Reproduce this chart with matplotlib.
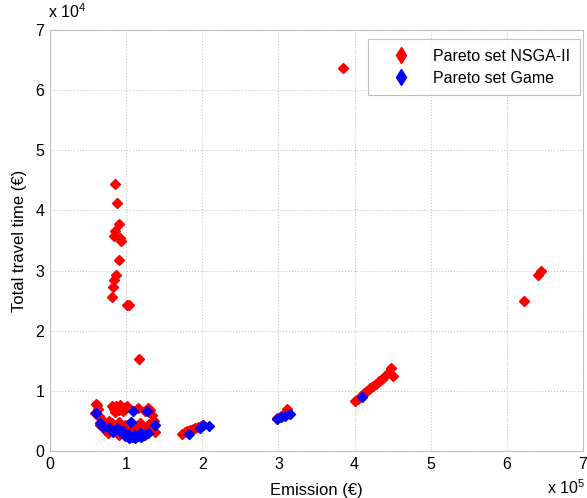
import matplotlib
matplotlib.use("Agg")
import matplotlib.pyplot as plt
from matplotlib.lines import Line2D

# Emission (x 1e5) and total travel time (x 1e4)
nsga_x = [3.85, 6.23, 6.41, 6.45,
          0.86, 0.88, 0.91, 0.86, 0.84, 0.92, 0.93, 0.90, 0.87, 0.845, 0.83, 0.82, 1.01, 1.04, 1.165,
          0.62, 0.635, 0.59, 0.64, 0.66, 0.61,
          0.81, 0.84, 0.87, 0.90, 0.93, 0.96, 0.99, 1.01, 0.85, 0.92, 0.97,
          1.16, 1.29, 1.34, 1.25, 1.31,
          0.81, 0.90, 0.99, 1.18, 1.23, 1.34, 0.72, 0.90, 1.25, 1.38, 0.66, 0.76, 1.05, 1.12,
          0.95, 1.02, 1.10, 1.15, 1.20, 0.86, 0.78, 1.30, 1.36, 0.70,
          1.73, 1.77, 1.80, 1.84, 1.88, 1.91, 1.94, 1.98, 2.01,
          2.98, 3.03, 3.07, 3.11,
          4.00, 4.04, 4.08, 4.12, 4.16, 4.20, 4.24, 4.28, 4.32, 4.36, 4.40, 4.44, 4.48, 4.50]
nsga_y = [6.36, 2.50, 2.92, 3.00,
          4.44, 4.13, 3.78, 3.66, 3.58, 3.54, 3.50, 3.17, 2.92, 2.85, 2.73, 2.56, 2.43, 2.43, 1.53,
          0.76, 0.70, 0.63, 0.58, 0.55, 0.78,
          0.75, 0.70, 0.74, 0.68, 0.72, 0.66, 0.70, 0.74, 0.65, 0.76, 0.72,
          0.71, 0.71, 0.60, 0.66, 0.68,
          0.46, 0.49, 0.43, 0.46, 0.40, 0.38, 0.35, 0.27, 0.27, 0.32, 0.43, 0.30, 0.47, 0.42,
          0.36, 0.33, 0.38, 0.30, 0.45, 0.40, 0.50, 0.45, 0.50, 0.50,
          0.29, 0.31, 0.33, 0.35, 0.37, 0.39, 0.40, 0.42, 0.44,
          0.55, 0.58, 0.62, 0.70,
          0.83, 0.87, 0.91, 0.96, 1.00, 1.04, 1.08, 1.12, 1.16, 1.20, 1.25, 1.30, 1.38, 1.24]

game_x = [0.61, 0.66, 0.70, 0.77, 0.83, 0.88, 1.09, 1.27, 1.07, 1.38,
          0.94, 0.99, 1.04, 1.08, 1.12, 1.16, 1.20, 1.24, 1.29, 1.02, 1.10, 1.18, 0.96,
          1.82, 1.97, 2.01, 2.09,
          2.98, 3.04, 3.09, 3.15,
          4.10]
game_y = [0.63, 0.46, 0.40, 0.38, 0.32, 0.38, 0.66, 0.66, 0.49, 0.43,
          0.30, 0.25, 0.22, 0.24, 0.22, 0.25, 0.23, 0.26, 0.30, 0.28, 0.27, 0.30, 0.33,
          0.29, 0.38, 0.43, 0.42,
          0.54, 0.57, 0.59, 0.62,
          0.89]

series_labels = ['Pareto set NSGA-II', 'Pareto set Game']
series_colors = ['#ff0000', '#0000ff']

plt.rcParams['font.family'] = ['Liberation Sans', 'DejaVu Sans']

fig = plt.figure(figsize=(5.87, 4.98), dpi=100)
ax = fig.add_axes([50/587, 47/498, 533/587, 421/498])

ax.plot([v * 1e5 for v in nsga_x], [v * 1e4 for v in nsga_y], linestyle='none',
        marker='D', markersize=5, color=series_colors[0], markeredgecolor=series_colors[0])
ax.plot([v * 1e5 for v in game_x], [v * 1e4 for v in game_y], linestyle='none',
        marker='D', markersize=5, color=series_colors[1], markeredgecolor=series_colors[1])

ax.set_xlim(0, 7e5)
ax.set_ylim(0, 7e4)
ax.set_xticks([i * 1e5 for i in range(8)])
ax.set_yticks([i * 1e4 for i in range(8)])
ax.set_xticklabels([str(i) for i in range(8)])
ax.set_yticklabels([str(i) for i in range(8)])
ax.tick_params(labelsize=11.5, length=0, pad=4)

ax.grid(True, linestyle=':', color='#c8c8c8', linewidth=0.8)
ax.set_axisbelow(True)
for s in ax.spines.values():
    s.set_color('#c0c0c0')
    s.set_linewidth(0.8)

ax.set_xlabel('Emission (€)', fontsize=12, labelpad=8)
ax.set_ylabel('Total travel time (€)', fontsize=12, labelpad=6)

fig.text(48/587, 1 - 18/498, r'x 10$^{\mathregular{4}}$', fontsize=11.5, ha='left', va='baseline')
fig.text(547/587, 1 - 494/498, r'x 10$^{\mathregular{5}}$', fontsize=11.5, ha='left', va='baseline')

handles = [Line2D([], [], linestyle='none', marker='d', markersize=8,
                  color=c, markeredgecolor=c) for c in series_colors]
leg = ax.legend(handles, series_labels, loc='upper right',
                bbox_to_anchor=(580/587, 1 - 39/498), bbox_transform=fig.transFigure,
                fontsize=11.5, frameon=True, fancybox=False,
                borderpad=0.6, handlelength=3.0, handletextpad=0.5,
                labelspacing=0.45, borderaxespad=0)
leg.get_frame().set_edgecolor('#b0b0b0')
leg.get_frame().set_linewidth(0.8)

fig.savefig('out.png', dpi=100)
